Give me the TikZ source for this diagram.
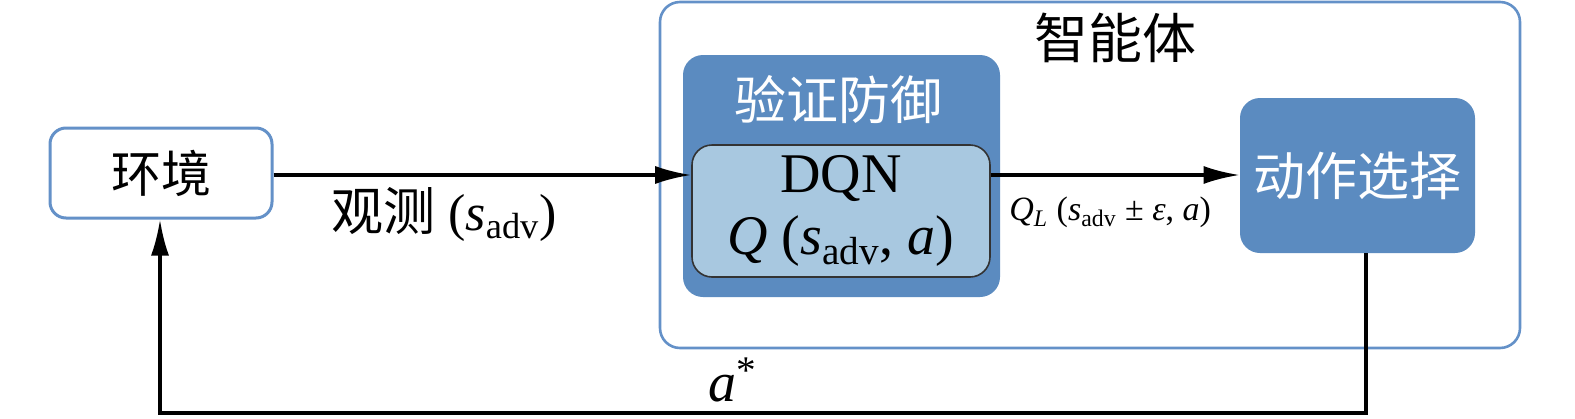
\documentclass[tikz,border=0pt]{standalone}
\usepackage{fontspec}
\setmainfont{Liberation Serif}
\newfontfamily\cjk{Noto Sans CJK SC}
\usetikzlibrary{arrows.meta,positioning}
\definecolor{boxblue}{RGB}{91,139,192}
\definecolor{lightblue}{RGB}{168,200,224}
\definecolor{edgeblue}{RGB}{100,145,200}
\tikzset{
  envbox/.style={draw=edgeblue,line width=1.5pt,fill=white,rounded corners=8pt,minimum width=111pt,minimum height=45pt,font=\cjk\fontsize{25}{28}\selectfont},
  agentbox/.style={draw=edgeblue,line width=1.3pt,rounded corners=10pt,minimum width=430pt,minimum height=173pt},
  bluebox/.style={fill=boxblue,rounded corners=10pt,text=white,font=\cjk\fontsize{26}{30}\selectfont},
  dqnbox/.style={draw=black!80,line width=0.8pt,fill=lightblue,rounded corners=10pt,minimum width=149pt,minimum height=66pt,align=center,font=\fontsize{28}{34}\selectfont},
  flow/.style={line width=1.6pt,-{Latex[length=18pt,width=9pt]}}
}
\begin{document}
\begin{tikzpicture}[x=0.5pt,y=-0.5pt]
\useasboundingbox (0,0) rectangle (1575,418);
% agent frame
\node[agentbox] (agent) at (1090,175) {};
\node[font=\cjk\fontsize{27}{30}\selectfont] (title) at (1115,38) {智能体};
% environment
\node[envbox] (env) at (161,173) {环境};
% defence block with DQN
\node[bluebox,minimum width=158.5pt,minimum height=121pt] (defence) at (841.5,176) {};
\node[text=white,font=\cjk\fontsize{26}{30}\selectfont] (deftitle) at (838,100) {验证防御};
\node[dqnbox] (dqn) at (841,211) {DQN\\[-3pt]\textit{Q} (\textit{s}\textsubscript{adv}, \textit{a})};
% action selection
\node[bluebox,minimum width=117.5pt,minimum height=77.5pt] (act) at (1357.5,175.5) {动作选择};
% connectors
\draw[flow] (env.east |- 0,175) -- (dqn.west |- 0,175);
\node[font=\fontsize{26}{30}\selectfont] (obs) at (444,214) {{\cjk 观测} (\textit{s}\textsubscript{adv})};
\draw[flow] (dqn.east |- 0,175) -- (act.west |- 0,175)
  node[pos=0.48,below=7pt,font=\fontsize{17}{20}\selectfont] (ql) {\textit{Q}\textsubscript{\textit{L}} (\textit{s}\textsubscript{adv} ± \textit{ε}, \textit{a})};
\coordinate (c1) at (1366,413);
\coordinate (c2) at (160,413);
\draw[flow] (act.south -| c1) -- (c1) -- (c2) -- (env.south -| c2);
\node[font=\fontsize{28}{32}\selectfont] (astar) at (733,380) {\textit{a}\textsuperscript{*}};
\end{tikzpicture}
\end{document}
